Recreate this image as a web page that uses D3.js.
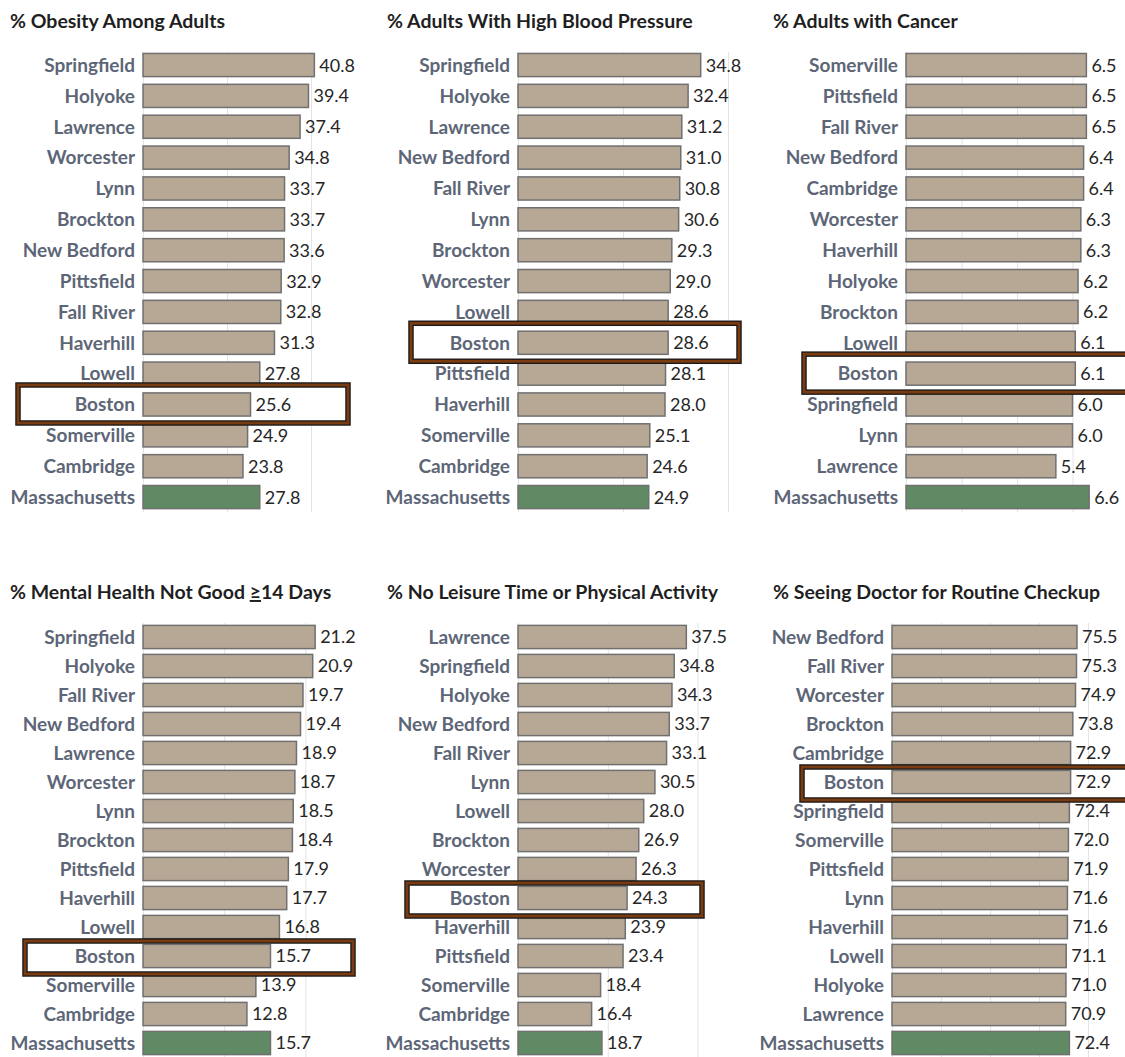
<!DOCTYPE html>
<html>
<head>
<meta charset="utf-8">
<script src="https://cdn.jsdelivr.net/npm/d3@7"></script>
<style>
  html, body { margin: 0; padding: 0; background: #ffffff; }
  svg { display: block; }
</style>
</head>
<body>
<svg id="chart" width="1125" height="1057"></svg>
<script>
// ---------------- DATA ----------------
const obesityTitle = "% Obesity Among Adults";
const obesityCities = ["Springfield","Holyoke","Lawrence","Worcester","Lynn","Brockton","New Bedford","Pittsfield","Fall River","Haverhill","Lowell","Boston","Somerville","Cambridge","Massachusetts"];
const obesityValues = [40.8,39.4,37.4,34.8,33.7,33.7,33.6,32.9,32.8,31.3,27.8,25.6,24.9,23.8,27.8];
const obesityTicks = [0,20,40];

const bpTitle = "% Adults With High Blood Pressure";
const bpCities = ["Springfield","Holyoke","Lawrence","New Bedford","Fall River","Lynn","Brockton","Worcester","Lowell","Boston","Pittsfield","Haverhill","Somerville","Cambridge","Massachusetts"];
const bpValues = [34.8,32.4,31.2,31.0,30.8,30.6,29.3,29.0,28.6,28.6,28.1,28.0,25.1,24.6,24.9];
const bpTicks = [0,20,40];

const cancerTitle = "% Adults with Cancer";
const cancerCities = ["Somerville","Pittsfield","Fall River","New Bedford","Cambridge","Worcester","Haverhill","Holyoke","Brockton","Lowell","Boston","Springfield","Lynn","Lawrence","Massachusetts"];
const cancerValues = [6.5,6.5,6.5,6.4,6.4,6.3,6.3,6.2,6.2,6.1,6.1,6.0,6.0,5.4,6.6];
const cancerTicks = [0,2,4,6];

const mentalTitle = "% Mental Health Not Good ";
const mentalTitleUnderlined = "\u2265";
const mentalTitleTail = "14 Days";
const mentalCities = ["Springfield","Holyoke","Fall River","New Bedford","Lawrence","Worcester","Lynn","Brockton","Pittsfield","Haverhill","Lowell","Boston","Somerville","Cambridge","Massachusetts"];
const mentalValues = [21.2,20.9,19.7,19.4,18.9,18.7,18.5,18.4,17.9,17.7,16.8,15.7,13.9,12.8,15.7];
const mentalTicks = [0,10,20];

const leisureTitle = "% No Leisure Time or Physical Activity";
const leisureCities = ["Lawrence","Springfield","Holyoke","New Bedford","Fall River","Lynn","Lowell","Brockton","Worcester","Boston","Haverhill","Pittsfield","Somerville","Cambridge","Massachusetts"];
const leisureValues = [37.5,34.8,34.3,33.7,33.1,30.5,28.0,26.9,26.3,24.3,23.9,23.4,18.4,16.4,18.7];
const leisureTicks = [0,20,40];

const checkupTitle = "% Seeing Doctor for Routine Checkup";
const checkupCities = ["New Bedford","Fall River","Worcester","Brockton","Cambridge","Boston","Springfield","Somerville","Pittsfield","Lynn","Haverhill","Lowell","Holyoke","Lawrence","Massachusetts"];
const checkupValues = [75.5,75.3,74.9,73.8,72.9,72.9,72.4,72.0,71.9,71.6,71.6,71.1,71.0,70.9,72.4];
const checkupTicks = [0,20,40,60,80];

const highlightCity = "Boston";
const totalCategory = "Massachusetts";

// ---------------- LAYOUT / STYLE ----------------
const panels = [
  { title: [obesityTitle], cats: obesityCities, vals: obesityValues, ticks: obesityTicks,
    titleX: 10, x0: 143, dmax: 45, width: 189, row: 0, boxL: 18, boxR: 348 },
  { title: [bpTitle], cats: bpCities, vals: bpValues, ticks: bpTicks,
    titleX: 387, x0: 518, dmax: 40, width: 210, row: 0, boxL: 411, boxR: 739 },
  { title: [cancerTitle], cats: cancerCities, vals: cancerValues, ticks: cancerTicks,
    titleX: 773, x0: 906, dmax: 8, width: 222, row: 0, boxL: 804, boxR: 1130 },
  { title: [mentalTitle, mentalTitleUnderlined, mentalTitleTail], cats: mentalCities, vals: mentalValues, ticks: mentalTicks,
    titleX: 10, x0: 143, dmax: 25, width: 203, row: 1, boxL: 25, boxR: 353 },
  { title: [leisureTitle], cats: leisureCities, vals: leisureValues, ticks: leisureTicks,
    titleX: 387, x0: 518, dmax: 45, width: 202, row: 1, boxL: 407, boxR: 702 },
  { title: [checkupTitle], cats: checkupCities, vals: checkupValues, ticks: checkupTicks,
    titleX: 773, x0: 892, dmax: 80, width: 196, row: 1, boxL: 802, boxR: 1130 }
];

const rows = [
  { titleY: 28, bandTop: 49.6, bandBottom: 512.5, pi: 0.25, po: 0.125, gridTop: 52, gridBottom: 512, boxHalf: 19, boxShift: -0.5 },
  { titleY: 599, bandTop: 622.5, bandBottom: 1057.5, pi: 0.2, po: 0.1, gridTop: 623, gridBottom: 1057, boxHalf: 16.5, boxShift: 1.5 }
];

const barFill = "#b7a896";
const barStroke = "#707070";
const totalFill = "#5f8a63";
const labelColor = "#5d6677";
const valueColor = "#262626";
const titleColor = "#1f1f1f";
const gridColor = "#e4e4e4";
const boxOuter = "#1a1a1a";
const boxInner = "#7b3b10";
const fontFam = "Lato, 'Open Sans', sans-serif";

const svg = d3.select("#chart");

panels.forEach(p => {
  const r = rows[p.row];
  const g = svg.append("g");
  const data = p.cats.map((c, i) => ({ cat: c, val: p.vals[i] }));

  const x = d3.scaleLinear().domain([0, p.dmax]).range([p.x0, p.x0 + p.width]);
  const y = d3.scaleBand().domain(p.cats).range([r.bandTop, r.bandBottom])
    .paddingInner(r.pi).paddingOuter(r.po);

  // title
  const t = g.append("text")
    .attr("x", p.titleX).attr("y", r.titleY)
    .attr("font-family", fontFam).attr("font-weight", 700)
    .attr("font-size", 19.5).attr("fill", titleColor);
  p.title.forEach((s, i) => {
    const ts = t.append("tspan").text(s);
    if (i === 1) ts.attr("text-decoration", "underline");
  });

  // gridlines via axis
  const axis = d3.axisBottom(x).tickValues(p.ticks)
    .tickSize(-(r.gridBottom - r.gridTop)).tickFormat("");
  const ga = g.append("g").attr("transform", `translate(0,${r.gridBottom})`).call(axis);
  ga.select(".domain").remove();
  ga.selectAll(".tick line").attr("stroke", gridColor).attr("stroke-width", 1);

  // highlight box (white background)
  const yc = y(highlightCity) + y.bandwidth() / 2 + r.boxShift;
  g.append("rect")
    .attr("x", p.boxL).attr("y", yc - r.boxHalf)
    .attr("width", p.boxR - p.boxL).attr("height", 2 * r.boxHalf)
    .attr("fill", "#ffffff");

  // bars
  g.selectAll("rect.bar").data(data).join("rect")
    .attr("class", "bar")
    .attr("x", x(0))
    .attr("y", d => y(d.cat))
    .attr("width", d => x(d.val) - x(0))
    .attr("height", y.bandwidth())
    .attr("fill", d => d.cat === totalCategory ? totalFill : barFill)
    .attr("stroke", barStroke).attr("stroke-width", 1.5);

  // category labels
  g.selectAll("text.cat").data(data).join("text")
    .attr("class", "cat")
    .attr("x", p.x0 - 8)
    .attr("y", d => y(d.cat) + y.bandwidth() / 2)
    .attr("dy", "0.36em")
    .attr("text-anchor", "end")
    .attr("font-family", fontFam).attr("font-weight", 700)
    .attr("font-size", 19).attr("fill", labelColor)
    .text(d => d.cat);

  // value labels
  g.selectAll("text.val").data(data).join("text")
    .attr("class", "val")
    .attr("x", d => x(d.val) + 5)
    .attr("y", d => y(d.cat) + y.bandwidth() / 2)
    .attr("dy", "0.36em")
    .attr("font-family", fontFam).attr("font-weight", 400)
    .attr("font-size", 18).attr("fill", valueColor)
    .text(d => d3.format(".1f")(d.val));

  // box border: outer dark + brown core
  [[boxOuter, 5.5], [boxInner, 2.8]].forEach(([c, w]) => {
    g.append("rect")
      .attr("x", p.boxL).attr("y", yc - r.boxHalf)
      .attr("width", p.boxR - p.boxL).attr("height", 2 * r.boxHalf)
      .attr("fill", "none").attr("stroke", c).attr("stroke-width", w);
  });
});
</script>
</body>
</html>
